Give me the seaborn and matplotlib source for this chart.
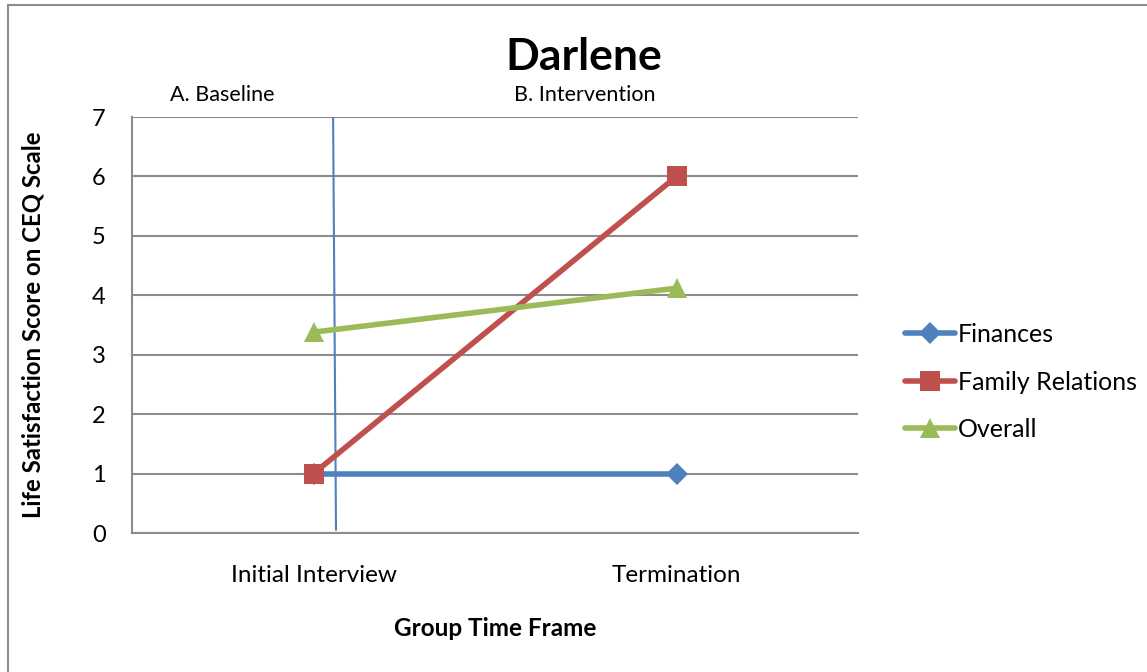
import matplotlib
matplotlib.use("Agg")
import matplotlib.pyplot as plt
import seaborn as sns
import pandas as pd
from matplotlib.patches import Rectangle

categories = ["Initial Interview", "Termination"]
finances = [1, 1]
family_relations = [1, 6]
overall = [3.38, 4.12]
series_names = ["Finances", "Family Relations", "Overall"]
phase_labels = ["A. Baseline", "B. Intervention"]
y_ticks = [0, 1, 2, 3, 4, 5, 6, 7]

sns.set_theme(style="white")
plt.rcParams["font.family"] = ["Lato", "DejaVu Sans"]
plt.rcParams["text.color"] = "black"
plt.rcParams["axes.labelcolor"] = "black"
plt.rcParams["xtick.color"] = "black"
plt.rcParams["ytick.color"] = "black"

rows = []
for name, vals in zip(series_names, [finances, family_relations, overall]):
    for i, v in enumerate(vals):
        rows.append({"x": i, "cat": categories[i], "value": v, "series": name})
df = pd.DataFrame(rows)

colors = {"Finances": "#4F81BD", "Family Relations": "#C0504D", "Overall": "#9BBB59"}
markers = {"Finances": "D", "Family Relations": "s", "Overall": "^"}

fig = plt.figure(figsize=(11.47, 6.72), dpi=100)
ax = fig.add_axes([132/1147, 1-533/672, (858-132)/1147, (533-117)/672])

for name in series_names:
    sub = df[df.series == name]
    ms = {"Finances": 11, "Family Relations": 14, "Overall": 14}[name]
    sns.lineplot(data=sub, x="x", y="value", ax=ax, color=colors[name], lw=4,
                 marker=markers[name], markersize=ms, markeredgewidth=0,
                 label=name, zorder=3, sort=False)

ax.set_xlim(-0.5, 1.5)
ax.set_ylim(0, 7)
ax.set_yticks(y_ticks)
ax.set_yticklabels([str(t) for t in y_ticks], fontsize=17)
ax.set_xticks([0, 1])
ax.set_xticklabels(categories, fontsize=17.5)
ax.tick_params(axis="x", pad=23, length=0)
ax.tick_params(axis="y", pad=19, length=0)
ax.yaxis.grid(True, color="#8C8C8C", lw=1.5)
ax.set_axisbelow(True)
for s in ["top", "right"]:
    ax.spines[s].set_visible(False)
for s in ["left", "bottom"]:
    ax.spines[s].set_color("#8C8C8C")
    ax.spines[s].set_linewidth(1.5)

# phase change line
ax.plot([0.054, 0.062], [7, 0.05], color="#4F81BD", lw=1.5, zorder=2)

ax.set_xlabel("Group Time Frame", fontsize=17.5, fontweight="bold")
ax.set_ylabel("Life Satisfaction Score on CEQ Scale", fontsize=17.3, fontweight="bold")
ax.xaxis.set_label_coords(0.5, (533 - 617) / 416)
ax.yaxis.set_label_coords((45 - 132) / 726, 0.5)

ax.text(-0.252, 7.2, phase_labels[0], fontsize=15.5, ha="center", va="bottom")
ax.text(0.748, 7.2, phase_labels[1], fontsize=15.5, ha="center", va="bottom")

fig.text(584/1147, 1-57/672, "Darlene", fontsize=32, fontweight="bold", ha="center", va="center")

leg = ax.legend(loc="center left", bbox_to_anchor=(1.034, (533 - 382) / 416), frameon=False,
                fontsize=18, handlelength=2.0, labelspacing=0.98, handletextpad=0.1)

fig.patches.append(Rectangle((8/1147, -0.1), 1.2, 1 - 5/672 + 0.1, transform=fig.transFigure,
                             fill=False, edgecolor="#8C8C8C", lw=1.5))

fig.savefig("out.png", dpi=100)
